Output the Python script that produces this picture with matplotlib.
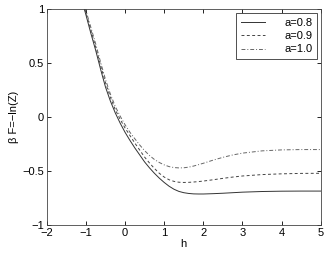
import matplotlib
matplotlib.use("Agg")
import matplotlib.pyplot as plt

h = [-1.1, -1.0, -0.875, -0.75, -0.625, -0.5, -0.375, -0.25, -0.125, 0, 0.125, 0.25, 0.375, 0.5,
     0.625, 0.75, 0.875, 1.0, 1.125, 1.25, 1.375, 1.5, 1.625, 1.75, 1.875, 2.0, 2.25, 2.5, 2.75,
     3.0, 3.5, 4.0, 4.5, 5.0]
f_a08 = [1.08, 0.95, 0.78, 0.62, 0.445, 0.28, 0.15, 0.04, -0.055, -0.14, -0.215, -0.285, -0.35, -0.415,
         -0.47, -0.52, -0.565, -0.605, -0.64, -0.668, -0.688, -0.70, -0.707, -0.711, -0.712, -0.712,
         -0.709, -0.705, -0.70, -0.695, -0.689, -0.686, -0.685, -0.685]
f_a09 = [1.10, 0.97, 0.81, 0.65, 0.48, 0.32, 0.185, 0.07, -0.02, -0.10, -0.17, -0.24, -0.305, -0.37,
         -0.425, -0.475, -0.52, -0.555, -0.58, -0.595, -0.603, -0.605, -0.604, -0.601, -0.597, -0.592,
         -0.58, -0.567, -0.555, -0.545, -0.532, -0.525, -0.521, -0.52]
f_a10 = [1.12, 0.99, 0.835, 0.68, 0.51, 0.35, 0.215, 0.10, 0.01, -0.07, -0.14, -0.20, -0.258, -0.31,
         -0.355, -0.392, -0.42, -0.442, -0.458, -0.467, -0.47, -0.469, -0.463, -0.453, -0.44, -0.427,
         -0.398, -0.372, -0.35, -0.333, -0.312, -0.303, -0.30, -0.30]
labels = ["a=0.8", "a=0.9", "a=1.0"]
xticks = [-2, -1, 0, 1, 2, 3, 4, 5]
yticks = [-1, -0.5, 0, 0.5, 1]

plt.rcParams['font.family'] = ['Liberation Sans', 'DejaVu Sans']
plt.rcParams['font.size'] = 8

fig = plt.figure(figsize=(3.27, 2.54), dpi=100)
ax = fig.add_axes([0.143, 0.114, 0.838, 0.849])
ax.plot(h, f_a08, '-', color='#333333', lw=0.7, label=labels[0])
ax.plot(h, f_a09, '--', color='#444444', lw=0.7, dashes=(3, 2.5), label=labels[1])
ax.plot(h, f_a10, '-.', color='#666666', lw=0.7, dashes=(4, 2, 1, 2), label=labels[2])
ax.set_xlim(-2, 5)
ax.set_ylim(-1, 1)
ax.set_xticks(xticks)
ax.set_yticks(yticks)
ax.set_xticklabels(['\u2212' + str(-t) if t < 0 else str(t) for t in xticks])
ax.set_yticklabels(['\u22121', '\u22120.5', '0', '0.5', '1'])
ax.tick_params(direction='in', top=True, right=True, length=3, width=0.6, pad=2)
for s in ax.spines.values():
    s.set_linewidth(0.6)
    s.set_color('#444444')
ax.set_xlabel('h', labelpad=1)
ax.set_ylabel('\u03b2 F=\u2212ln(Z)', labelpad=2)
leg = ax.legend(loc='upper right', fancybox=False, framealpha=1, edgecolor='#333333',
                handlelength=2.2, borderaxespad=0.3, borderpad=0.45, labelspacing=0.3,
                handletextpad=1.7)
leg.get_frame().set_linewidth(0.6)
fig.savefig('out.png', dpi=100)
